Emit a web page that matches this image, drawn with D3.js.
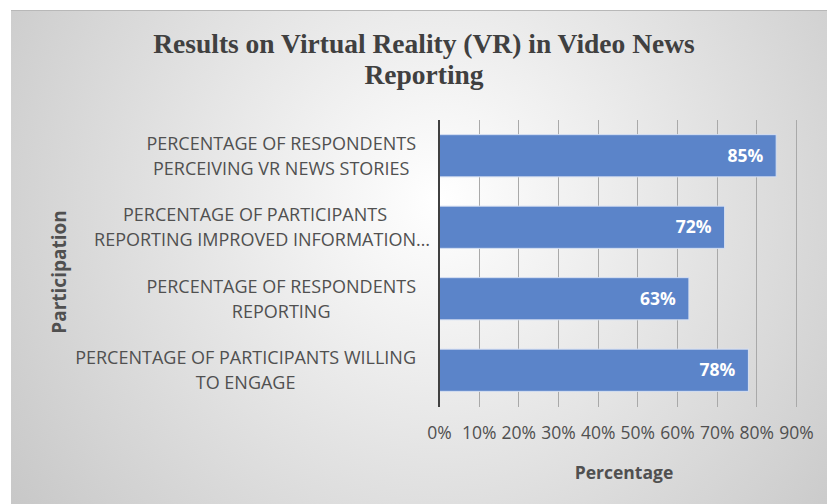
<!DOCTYPE html>
<html>
<head>
<meta charset="utf-8">
<script src="https://cdn.jsdelivr.net/npm/d3@7"></script>
<style>
  html, body { margin: 0; padding: 0; background: #fff; }
  svg { display: block; }
</style>
</head>
<body>
<div id="chart"></div>
<script>
// chart data
const categoryLines = [
    ['PERCENTAGE OF RESPONDENTS', 'PERCEIVING VR NEWS STORIES'],
    ['PERCENTAGE OF PARTICIPANTS', 'REPORTING IMPROVED INFORMATION…'],
    ['PERCENTAGE OF RESPONDENTS', 'REPORTING'],
    ['PERCENTAGE OF PARTICIPANTS WILLING', 'TO ENGAGE']
];
const values = [0.85, 0.72, 0.63, 0.78];
const xTicks = [0, 0.1, 0.2, 0.3, 0.4, 0.5, 0.6, 0.7, 0.8, 0.9];
const titleLines = ['Results on Virtual Reality (VR) in Video News', 'Reporting'];
const xTitle = 'Percentage';
const yTitle = 'Participation';

// colours
const COLOR_BAR    = '#5b84c9';
const COLOR_TEXT   = '#505050';
const COLOR_TITLE  = '#404040';
const COLOR_GRID   = '#a9a9a9';
const FONT_SANS    = '"Open Sans", sans-serif';

const W = 827, H = 504;
const plot = { left: 439, right: 796, top: 120, bottom: 406 };

const svg = d3.select('#chart').append('svg')
    .attr('width', W).attr('height', H);

// background: radial grey gradient on chart area
const grad = svg.append('defs').append('radialGradient')
    .attr('id', 'bg').attr('gradientUnits', 'userSpaceOnUse')
    .attr('cx', 440).attr('cy', 200).attr('r', 560);
grad.append('stop').attr('offset', '0%').attr('stop-color', '#ffffff');
grad.append('stop').attr('offset', '100%').attr('stop-color', '#c4c4c4');

svg.append('rect')
    .attr('x', 11).attr('y', 10).attr('width', W - 11).attr('height', H - 10)
    .attr('fill', 'url(#bg)');
svg.append('line')
    .attr('x1', 11).attr('x2', W).attr('y1', 10.5).attr('y2', 10.5)
    .attr('stroke', '#b8b8b8').attr('stroke-width', 1);

const ids = categoryLines.map((d, i) => i);

const x = d3.scaleLinear()
    .domain([0, 0.9])
    .range([plot.left, plot.right]);
const y = d3.scaleBand()
    .domain(ids)
    .range([plot.top, plot.bottom])
    .paddingInner(0.41)
    .paddingOuter(0.205);

// title
svg.append('text')
    .attr('text-anchor', 'middle')
    .attr('font-family', '"Liberation Serif", "Times New Roman", serif')
    .attr('font-weight', 'bold').attr('font-size', 27.5)
    .attr('fill', COLOR_TITLE)
    .selectAll('tspan').data(titleLines).join('tspan')
    .attr('x', 424)
    .attr('y', (d, i) => 53 + i * 31)
    .text(d => d);

// gridlines
svg.append('g')
    .selectAll('line').data(xTicks.slice(1)).join('line')
    .attr('x1', d => Math.round(x(d)) + 0.5).attr('x2', d => Math.round(x(d)) + 0.5)
    .attr('y1', plot.top).attr('y2', plot.bottom + 1)
    .attr('stroke', COLOR_GRID).attr('stroke-width', 1);

// x axis (labels only, ticks are the gridlines)
const xAxis = svg.append('g')
    .attr('transform', `translate(0,${plot.bottom})`)
    .call(d3.axisBottom(x).tickValues(xTicks).tickFormat(d3.format('.0%')).tickSize(0).tickPadding(21));
xAxis.select('.domain').remove();
xAxis.selectAll('text')
    .attr('font-family', FONT_SANS).attr('font-size', 17.5)
    .attr('fill', COLOR_TEXT);

// bars
svg.append('g')
    .selectAll('rect').data(values).join('rect')
    .attr('x', x(0))
    .attr('y', (d, i) => y(i))
    .attr('width', d => x(d) - x(0))
    .attr('height', y.bandwidth())
    .attr('fill', COLOR_BAR)
    .attr('stroke', '#d6e0f2').attr('stroke-width', 1);

// value labels inside end
svg.append('g')
    .selectAll('text').data(values).join('text')
    .attr('x', d => x(d) - 13)
    .attr('y', (d, i) => y(i) + y.bandwidth() / 2)
    .attr('dy', '0.35em')
    .attr('text-anchor', 'end')
    .attr('font-family', FONT_SANS).attr('font-weight', 'bold').attr('font-size', 17.5)
    .attr('fill', '#ffffff')
    .text(d => d3.format('.0%')(d));

// y axis line
svg.append('line')
    .attr('x1', plot.left).attr('x2', plot.left)
    .attr('y1', plot.top).attr('y2', plot.bottom + 1)
    .attr('stroke', '#404040').attr('stroke-width', 2);

// category labels: lines centred in a block, block right aligned
const LABEL_RIGHT = 416;
const catG = svg.append('g')
    .attr('font-family', FONT_SANS).attr('font-size', 18)
    .attr('fill', COLOR_TEXT);
categoryLines.forEach((lines, i) => {
    const cy = y(i) + y.bandwidth() / 2;
    const texts = lines.map((line, j) => catG.append('text')
        .attr('y', cy + (j - (lines.length - 1) / 2) * 25)
        .attr('dy', '0.35em')
        .text(line));
    // width without the trailing ellipsis
    const widths = texts.map(t => {
        const txt = t.text();
        if (txt.endsWith('…')) return t.node().getSubStringLength(0, txt.length - 1);
        return t.node().getComputedTextLength();
    });
    const blockW = d3.max(widths);
    const cx = LABEL_RIGHT - blockW / 2;
    texts.forEach((t, j) => t.attr('x', cx - widths[j] / 2));
});

// axis titles
svg.append('text')
    .attr('x', 624).attr('y', 473)
    .attr('dy', '0.35em')
    .attr('text-anchor', 'middle')
    .attr('font-family', FONT_SANS).attr('font-weight', 'bold').attr('font-size', 17.5)
    .attr('fill', COLOR_TEXT)
    .text(xTitle);
svg.append('text')
    .attr('transform', 'translate(59,272) rotate(-90)')
    .attr('dy', '0.35em')
    .attr('text-anchor', 'middle')
    .attr('font-family', FONT_SANS).attr('font-weight', 'bold').attr('font-size', 19)
    .attr('fill', COLOR_TEXT)
    .text(yTitle);
</script>
</body>
</html>
